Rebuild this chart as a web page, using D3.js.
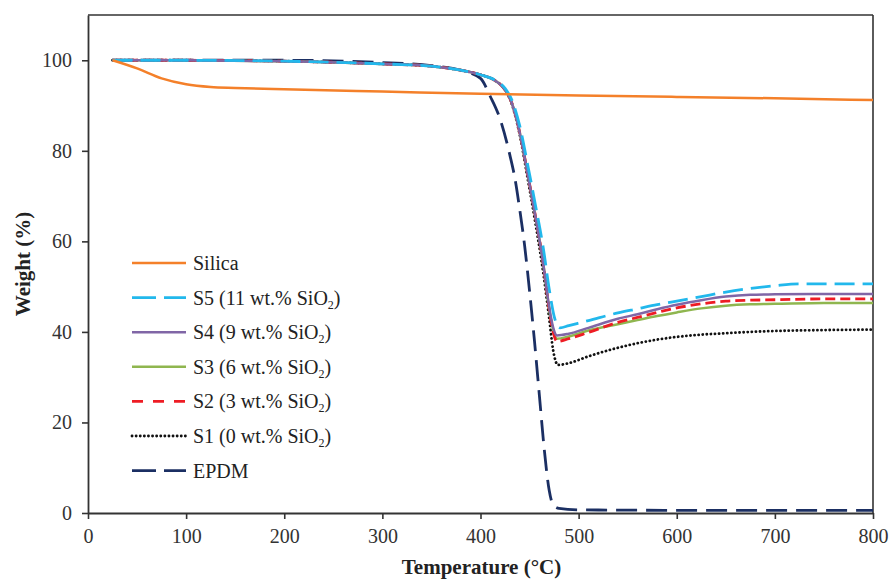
<!DOCTYPE html>
<html>
<head>
<meta charset="utf-8">
<script src="https://cdn.jsdelivr.net/npm/d3@7"></script>
<style>
  html, body { margin: 0; padding: 0; background: #fff; }
  svg { display: block; }
  text { font-family: "Liberation Serif", "Times New Roman", serif; fill: #222; }
</style>
</head>
<body>
<svg id="chart" width="891" height="584"></svg>
<script>
// ---------- data ----------
const xTicks = [0, 100, 200, 300, 400, 500, 600, 700, 800];
const yTicks = [0, 20, 40, 60, 80, 100];

const silicaT = [25, 50, 75, 100, 125, 150, 200, 300, 400, 500, 600, 700, 800];
const silicaW = [100, 98.2, 96.0, 94.7, 94.1, 93.9, 93.6, 93.1, 92.6, 92.2, 91.9, 91.6, 91.2];

const s5T = [25, 100, 200, 300, 350, 380, 400, 415, 425, 432, 440, 448, 456, 464, 470, 475, 481, 490, 510, 540, 560, 580, 600, 625, 650, 675, 700, 725, 750, 800];
const s5W = [100, 100, 99.8, 99.2, 98.7, 97.8, 96.8, 95.6, 93.8, 91.2, 85.5, 77.0, 68.0, 58.5, 49.5, 43.5, 40.9, 41.4, 42.5, 44.2, 45.1, 46.0, 46.8, 47.8, 48.8, 49.6, 50.2, 50.6, 50.6, 50.6];

const s4T = [25, 100, 200, 300, 350, 380, 400, 415, 425, 432, 440, 448, 456, 464, 470, 474, 478, 490, 510, 540, 560, 580, 600, 625, 650, 675, 700, 750, 800];
const s4W = [100, 100, 99.8, 99.2, 98.7, 97.8, 96.8, 95.5, 93.5, 90.5, 84.0, 75.0, 65.5, 55.0, 45.5, 41.0, 39.2, 39.6, 40.9, 42.9, 43.9, 45.0, 46.0, 47.0, 47.8, 48.2, 48.3, 48.4, 48.4];

const s3T = [25, 100, 200, 300, 350, 380, 400, 415, 425, 432, 440, 448, 456, 464, 470, 474, 478, 490, 510, 540, 560, 580, 600, 625, 650, 675, 700, 750, 800];
const s3W = [100, 100, 99.8, 99.2, 98.7, 97.8, 96.8, 95.5, 93.5, 90.5, 84.0, 75.0, 65.5, 55.0, 45.0, 40.5, 38.5, 39.0, 40.3, 41.7, 42.6, 43.5, 44.3, 45.2, 45.8, 46.1, 46.2, 46.4, 46.4];

const s2T = [25, 100, 200, 300, 350, 380, 400, 415, 425, 432, 440, 448, 456, 464, 470, 474, 478, 490, 510, 540, 560, 580, 600, 625, 650, 675, 700, 750, 800];
const s2W = [100, 100, 99.8, 99.2, 98.7, 97.8, 96.8, 95.5, 93.5, 90.5, 84.0, 75.0, 65.5, 55.0, 45.0, 40.0, 37.9, 38.5, 39.9, 42.1, 43.2, 44.3, 45.3, 46.2, 46.8, 47.0, 47.1, 47.3, 47.3];

const s1T = [25, 100, 200, 300, 350, 380, 400, 415, 425, 432, 440, 448, 456, 464, 470, 474, 479, 490, 510, 540, 560, 580, 600, 625, 650, 675, 700, 750, 800];
const s1W = [100, 100, 99.8, 99.2, 98.7, 97.8, 96.8, 95.5, 93.5, 90.3, 83.5, 74.0, 64.0, 53.0, 43.0, 36.0, 32.7, 33.1, 34.6, 36.5, 37.5, 38.3, 38.9, 39.4, 39.7, 40.0, 40.2, 40.4, 40.5];

const epdmT = [25, 100, 200, 300, 350, 380, 400, 410, 420, 430, 435, 440, 445, 450, 455, 460, 465, 470, 474, 480, 500, 600, 700, 800];
const epdmW = [100, 100, 100, 99.5, 98.8, 97.8, 96.0, 92.0, 87.0, 79.0, 74.0, 67.0, 59.0, 49.0, 38.0, 26.0, 14.0, 5.0, 1.8, 1.0, 0.7, 0.6, 0.6, 0.6];

const seriesNames = ["Silica", "S5 (11 wt.% SiO", "S4 (9 wt.% SiO", "S3 (6 wt.% SiO", "S2 (3 wt.% SiO", "S1 (0 wt.% SiO", "EPDM"];
const seriesColors = ["#f4802a", "#22b8ec", "#8066a6", "#8fb64f", "#ee1c24", "#111111", "#1b2f63"];

// ---------- layout ----------
const svg = d3.select("#chart");
const L = 88, R = 873, T = 15, B = 513;

const x = d3.scaleLinear().domain([0, 800]).range([L, R]);
const y = d3.scaleLinear().domain([0, 110]).range([B, T]);

const seriesData = [
  [silicaT, silicaW], [s5T, s5W], [s4T, s4W], [s3T, s3W], [s2T, s2W], [s1T, s1W], [epdmT, epdmW]
].map(([t, w]) => t.map((v, i) => [v, w[i]]));

const styles = [
  { dash: null, width: 2.5, cap: "butt" },
  { dash: "20,8", width: 2.8, cap: "butt" },
  { dash: null, width: 2.5, cap: "butt" },
  { dash: null, width: 2.5, cap: "butt" },
  { dash: "10,5", width: 2.8, cap: "butt" },
  { dash: "0.1,4", width: 2.8, cap: "round" },
  { dash: "21,9", width: 2.8, cap: "butt" }
];

// frame: top and right
svg.append("line").attr("x1", L).attr("x2", R).attr("y1", T).attr("y2", T)
  .attr("stroke", "#333").attr("stroke-width", 1.6);
svg.append("line").attr("x1", R).attr("x2", R).attr("y1", T).attr("y2", B)
  .attr("stroke", "#333").attr("stroke-width", 1.6);

const line = d3.line().x(d => x(d[0])).y(d => y(d[1])).curve(d3.curveMonotoneX);
const order = [6, 5, 3, 4, 2, 1, 0];
order.forEach(i => {
  svg.append("path")
    .datum(seriesData[i])
    .attr("d", line)
    .attr("fill", "none")
    .attr("stroke", seriesColors[i])
    .attr("stroke-width", styles[i].width)
    .attr("stroke-linecap", styles[i].cap)
    .attr("stroke-dasharray", styles[i].dash);
});

// axes
const xAxis = svg.append("g").attr("transform", `translate(0,${B})`)
  .call(d3.axisBottom(x).tickValues(xTicks).tickSize(6).tickSizeOuter(0).tickPadding(6));
const yAxis = svg.append("g").attr("transform", `translate(${L},0)`)
  .call(d3.axisLeft(y).tickValues(yTicks).tickSize(6).tickSizeOuter(0).tickPadding(10));
[xAxis, yAxis].forEach(g => {
  g.select(".domain").attr("stroke", "#333").attr("stroke-width", 1.8);
  g.selectAll(".tick line").attr("stroke", "#333").attr("stroke-width", 1.6);
  g.selectAll(".tick text").attr("font-size", 20).style("fill", "#333");
});
xAxis.selectAll(".tick text").attr("dy", "0.9em");

// axis titles
svg.append("text")
  .attr("x", (L + R) / 2 + 1).attr("y", 574)
  .attr("text-anchor", "middle")
  .attr("font-weight", "bold").attr("font-size", 21)
  .text("Temperature (°C)");
svg.append("text")
  .attr("transform", `translate(30,${(T + B) / 2}) rotate(-90)`)
  .attr("text-anchor", "middle")
  .attr("font-weight", "bold").attr("font-size", 21)
  .text("Weight (%)");

// legend
const legX1 = 132, legX2 = 186, legTextX = 193, legY0 = 263, legDy = 34.6;
seriesNames.forEach((name, i) => {
  const yy = legY0 + i * legDy;
  svg.append("line")
    .attr("x1", legX1).attr("x2", legX2).attr("y1", yy).attr("y2", yy)
    .attr("stroke", seriesColors[i])
    .attr("stroke-width", styles[i].width)
    .attr("stroke-linecap", styles[i].cap)
    .attr("stroke-dasharray", i === 1 || i === 6 ? "24,8" : (i === 4 ? "11,10" : styles[i].dash));
  const t = svg.append("text")
    .attr("x", legTextX).attr("y", yy + 7)
    .attr("font-size", 20).attr("fill", "#222");
  t.append("tspan").text(name);
  if (i >= 1 && i <= 5) {
    t.append("tspan").attr("font-size", 12).attr("dy", 4).text("2");
    t.append("tspan").attr("dy", -4).text(")");
  }
});
</script>
</body>
</html>
